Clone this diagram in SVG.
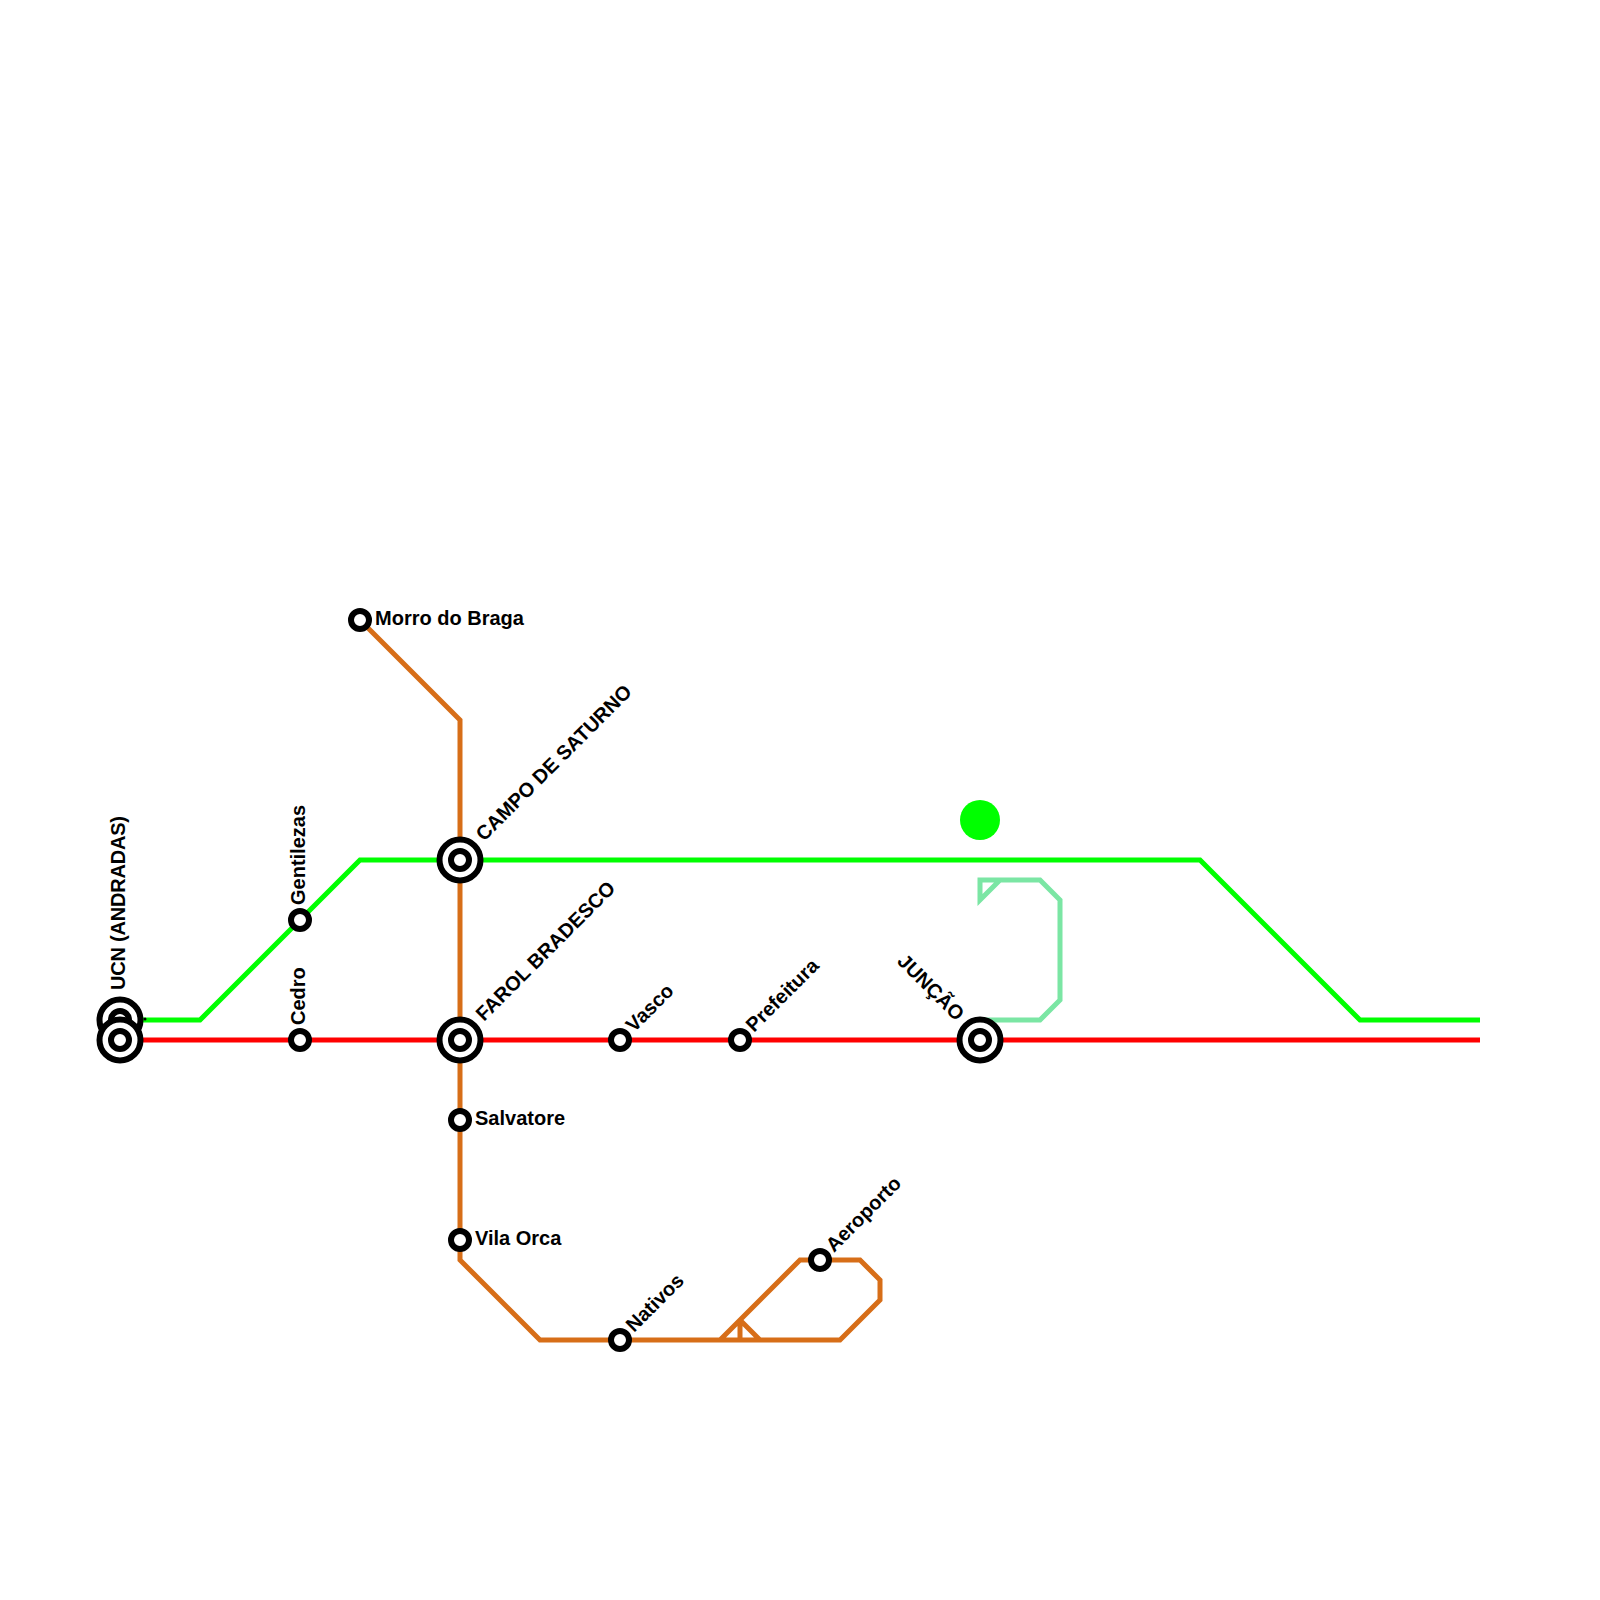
<svg xmlns="http://www.w3.org/2000/svg" width="1600" height="1600" viewBox="0 0 1600 1600">
<style>
.l{fill:none;stroke-width:5;stroke-linejoin:miter}
.o{fill:#fff;stroke:#000;stroke-width:6}
.t{font-family:"Liberation Sans",Arial,sans-serif;font-weight:700;font-size:20px;fill:#000}
</style>
<defs>
<g id="big"><circle r="20.5" class="o"/><circle r="9" class="o"/></g>
<g id="small"><circle r="9" class="o"/></g>
</defs>
<rect width="1600" height="1600" fill="#fff"/>
<g id="connectors">
<path class="l" stroke="#00ff00" d="M120 1020H200L360 860H1200L1360 1020H1480"/>
<path class="l" stroke="#d76e18" d="M360 620L460 720V1260L540 1340H840L880 1300V1280L860 1260H800L720 1340M740 1320V1340M740 1320L760 1340"/>
<path class="l" stroke="#7be6a4" d="M980 1020H1040L1060 1000V900L1040 880H980V900L1000 880"/>
<path class="l" stroke="#ff0000" d="M120 1040H1480"/>
</g>
<g id="marker-green"><circle cx="980" cy="820" r="20" fill="#00ff00"/></g>
<g id="st-ucn-a"><use href="#big" x="120" y="1020"/><circle cx="145" cy="1019" r="1.5" fill="#000"/></g>
<g id="st-ucn"><use href="#big" x="120" y="1040"/><text class="t" transform="translate(125 990) rotate(-90)" textLength="174" lengthAdjust="spacing">UCN (ANDRADAS)</text></g>
<g id="st-cedro"><use href="#small" x="300" y="1040"/><text class="t" transform="translate(305 1025) rotate(-90)">Cedro</text></g>
<g id="st-gentilezas"><use href="#small" x="300" y="920"/><text class="t" transform="translate(305 905) rotate(-90)">Gentilezas</text></g>
<g id="st-morro"><use href="#small" x="360" y="620"/><text class="t" x="375" y="625">Morro do Braga</text></g>
<g id="st-campo"><use href="#big" x="460" y="860"/><text class="t" transform="translate(484 842) rotate(-45)">CAMPO DE SATURNO</text></g>
<g id="st-farol"><use href="#big" x="460" y="1040"/><text class="t" transform="translate(484 1022) rotate(-45)">FAROL BRADESCO</text></g>
<g id="st-salvatore"><use href="#small" x="460" y="1120"/><text class="t" x="475" y="1125">Salvatore</text></g>
<g id="st-vila-orca"><use href="#small" x="460" y="1240"/><text class="t" x="475" y="1245">Vila Orca</text></g>
<g id="st-vasco"><use href="#small" x="620" y="1040"/><text class="t" transform="translate(634 1033) rotate(-45)">Vasco</text></g>
<g id="st-prefeitura"><use href="#small" x="740" y="1040"/><text class="t" transform="translate(754 1033) rotate(-45)">Prefeitura</text></g>
<g id="st-juncao"><use href="#big" x="980" y="1040"/><text class="t" text-anchor="end" transform="translate(956 1022) rotate(45)">JUNÇÃO</text></g>
<g id="st-nativos"><use href="#small" x="620" y="1340"/><text class="t" transform="translate(634 1333) rotate(-45)">Nativos</text></g>
<g id="st-aeroporto"><use href="#small" x="820" y="1260"/><text class="t" transform="translate(834 1253) rotate(-45)">Aeroporto</text></g>
</svg>
